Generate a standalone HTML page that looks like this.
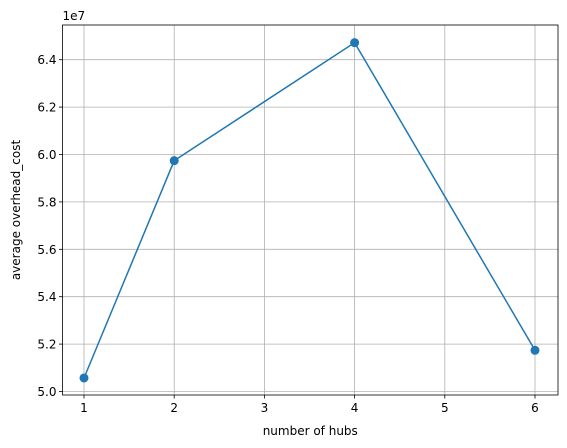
<!DOCTYPE html>
<html><head><meta charset="utf-8"><style>body{margin:0;background:#fff}svg{display:block;font-family:"DejaVu Sans","Liberation Sans",sans-serif}</style></head>
<body>
<svg id="chart" width="567" height="448"></svg>
<script>
const categories=[1,2,4,6];
const values=[5.057,5.974,6.472,5.174];
const xTicks=[1,2,3,4,5,6];
const yTicks=[5.0,5.2,5.4,5.6,5.8,6.0,6.2,6.4];
const L=62.5,R=558,T=25,B=395;
const x=v=>84+(v-1)*90.2;
const y=v=>391.5-(v-5.0)/0.2*47.4;
const svg=document.getElementById('chart');
const NS='http://www.w3.org/2000/svg';
function mk(t,a,p){const e=document.createElementNS(NS,t);for(const k in a)e.setAttribute(k,a[k]);(p||svg).appendChild(e);return e;}
const grid=mk('g',{});


xTicks.forEach(t=>{
 mk('line',{x1:x(t),x2:x(t),y1:T,y2:B,stroke:'#b0b0b0','stroke-width':0.8},grid);
 mk('line',{x1:x(t),x2:x(t),y1:B,y2:B+3.5,stroke:'#000','stroke-width':0.8});
 const tx=mk('text',{x:x(t),y:B+17,'text-anchor':'middle','font-size':12,fill:'#000'});
 
 
 tx.textContent=t;
});
yTicks.forEach(t=>{
 mk('line',{x1:L,x2:R,y1:y(t),y2:y(t),stroke:'#b0b0b0','stroke-width':0.8},grid);
 mk('line',{x1:L-3.5,x2:L,y1:y(t),y2:y(t),stroke:'#000','stroke-width':0.8});
 const tx=mk('text',{x:L-6,y:y(t)+4.5,'text-anchor':'end','font-size':12,fill:'#000'});
 
 
 tx.textContent=t.toFixed(1);
});
const line=mk('polyline',{points:categories.map((c,i)=>x(c)+','+y(values[i])).join(' '),fill:'none',stroke:'#1f77b4','stroke-width':1.5});


categories.forEach((c,i)=>{
 const p=mk('circle',{cx:x(c),cy:y(values[i]),r:4.5,fill:'#1f77b4'});
 
 
});
const fr=mk('rect',{x:L,y:T,width:R-L,height:B-T,fill:'none',stroke:'#000','stroke-width':0.8});


const off=mk('text',{x:L,y:T-5,'font-size':12,fill:'#000'});


off.textContent='1e7';
const xl=mk('text',{x:(L+R)/2,y:435,'text-anchor':'middle','font-size':12,fill:'#000'});


xl.textContent='number of hubs';
const yl=mk('text',{x:0,y:0,'text-anchor':'middle','font-size':12,fill:'#000',transform:'translate(20,'+(T+B)/2+') rotate(-90)'});


yl.textContent='average overhead_cost';
</script>
</body></html>
